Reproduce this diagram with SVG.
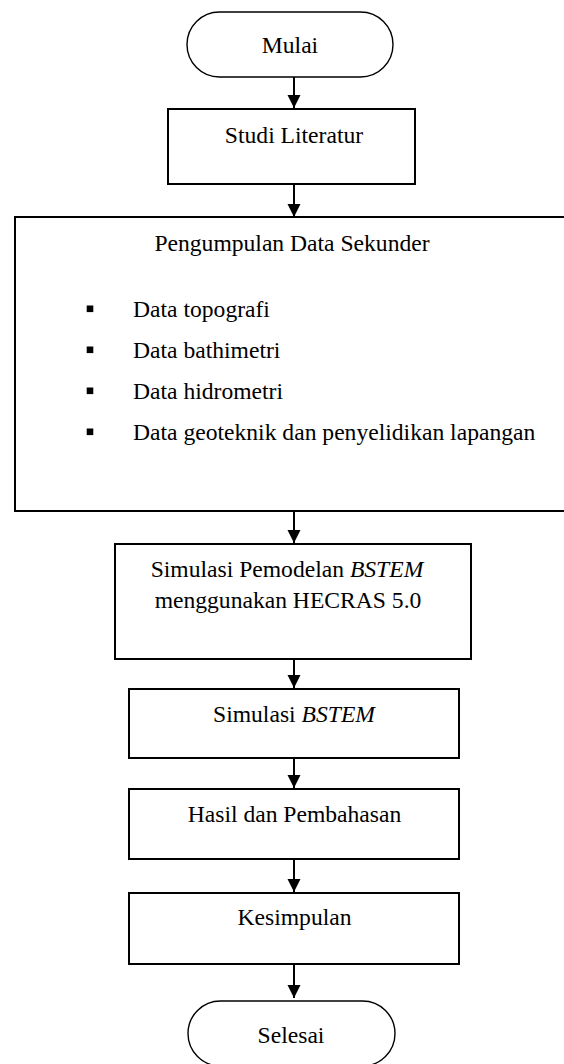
<svg xmlns="http://www.w3.org/2000/svg" width="564" height="1064" viewBox="0 0 564 1064">
  <defs>
    <style>
      .box { fill: #ffffff; stroke: #000000; stroke-width: 2; }
      .term { fill: #ffffff; stroke: #000000; stroke-width: 1.4; }
      .lbl { font-family: "Liberation Serif", "Times New Roman", serif; font-size: 23.6px; fill: #000000; }
      .mid { text-anchor: middle; }
      .flow { stroke: #000000; stroke-width: 2; fill: none; marker-end: url(#head); }
      .bullet { fill: #000000; }
    </style>
    <marker id="head" markerUnits="userSpaceOnUse" markerWidth="14" markerHeight="14" viewBox="0 0 14 14" refX="13" refY="7" orient="auto">
      <path d="M0,0.5 L13,7 L0,13.5 Z" fill="#000000"/>
    </marker>
  </defs>

  <rect width="564" height="1064" fill="#ffffff"/>

  <!-- connectors -->
  <g id="connectors">
    <line class="flow" x1="294" y1="77" x2="294" y2="108"/>
    <line class="flow" x1="294" y1="184" x2="294" y2="217"/>
    <line class="flow" x1="294" y1="511" x2="294" y2="543"/>
    <line class="flow" x1="294" y1="659" x2="294" y2="688"/>
    <line class="flow" x1="294" y1="758" x2="294" y2="788"/>
    <line class="flow" x1="294" y1="859" x2="294" y2="892"/>
    <line class="flow" x1="294" y1="964" x2="294" y2="998"/>
  </g>

  <g id="start">
    <rect class="term" x="187" y="12" width="206" height="65" rx="32.5" ry="32.5"/>
    <text class="lbl mid" x="290" y="53">Mulai</text>
  </g>

  <g id="studi-literatur">
    <rect class="box" x="168" y="109" width="247" height="75"/>
    <text class="lbl mid" x="294" y="143">Studi Literatur</text>
  </g>

  <g id="pengumpulan-data">
    <rect class="box" x="15" y="217" width="562" height="294"/>
    <text class="lbl mid" x="292" y="251">Pengumpulan Data Sekunder</text>
    <rect class="bullet" x="86.7" y="305.5" width="6.6" height="6.6"/>
    <text class="lbl" x="133" y="317">Data topografi</text>
    <rect class="bullet" x="86.7" y="346.5" width="6.6" height="6.6"/>
    <text class="lbl" x="133" y="358">Data bathimetri</text>
    <rect class="bullet" x="86.7" y="387.5" width="6.6" height="6.6"/>
    <text class="lbl" x="133" y="399">Data hidrometri</text>
    <rect class="bullet" x="86.7" y="428.5" width="6.6" height="6.6"/>
    <text class="lbl" x="133" y="440">Data geoteknik dan penyelidikan lapangan</text>
  </g>

  <g id="simulasi-pemodelan">
    <rect class="box" x="115" y="544" width="356" height="115"/>
    <text class="lbl mid" x="287" y="577">Simulasi Pemodelan <tspan font-style="italic">BSTEM</tspan></text>
    <text class="lbl mid" x="288" y="608">menggunakan HECRAS 5.0</text>
  </g>

  <g id="simulasi-bstem">
    <rect class="box" x="129" y="689" width="330" height="69"/>
    <text class="lbl mid" x="294" y="722">Simulasi <tspan font-style="italic">BSTEM</tspan></text>
  </g>

  <g id="hasil-pembahasan">
    <rect class="box" x="129" y="789" width="330" height="70"/>
    <text class="lbl mid" x="294.5" y="822">Hasil dan Pembahasan</text>
  </g>

  <g id="kesimpulan">
    <rect class="box" x="129" y="893" width="330" height="71"/>
    <text class="lbl mid" x="294.5" y="925">Kesimpulan</text>
  </g>

  <g id="end">
    <rect class="term" x="188" y="1001" width="207" height="65" rx="32.5" ry="32.5"/>
    <text class="lbl mid" x="291" y="1043">Selesai</text>
  </g>
</svg>
